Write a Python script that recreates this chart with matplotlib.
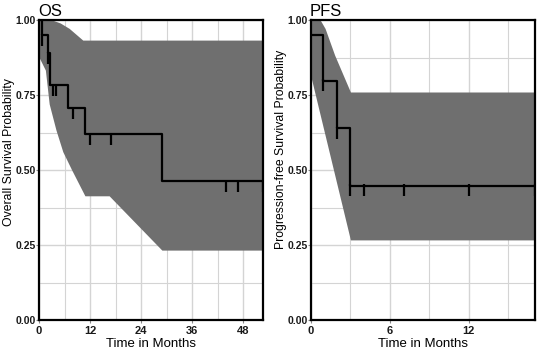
import numpy as np
import matplotlib
matplotlib.use('Agg')
import matplotlib.pyplot as plt
from matplotlib.ticker import MultipleLocator

plt.rcParams['font.family'] = ['Liberation Sans', 'DejaVu Sans']

# OS (overall survival) curve
os_event_t = [0, 0.8, 2.0, 2.7, 6.8, 10.9, 28.9]
os_surv = [1.0, 0.95, 0.89, 0.783, 0.706, 0.62, 0.463]
os_cens_t = [0.8, 2.1, 3.2, 4.0, 7.9, 12.0, 16.9, 43.9, 46.8, 52.7]
os_upper_t = [0, 3.1, 5.0, 7.1, 10.3, 52.7]
os_upper = [1.0, 1.0, 0.99, 0.972, 0.933, 0.933]
os_lower_t = [0, 0.1, 1.5, 2.4, 4.0, 5.6, 7.7, 10.8, 16.5, 28.9, 52.7]
os_lower = [1.0, 0.873, 0.833, 0.72, 0.633, 0.561, 0.5, 0.414, 0.414, 0.233, 0.233]

# PFS (progression-free survival) curve
pfs_event_t = [0, 0.94, 1.96, 2.98]
pfs_surv = [0.95, 0.798, 0.639, 0.448]
pfs_cens_t = [0.94, 1.96, 2.98, 4.0, 7.05, 12.0, 17.05]
pfs_upper_t = [0, 0.7, 1.07, 1.8, 3.0, 17.05]
pfs_upper = [1.0, 1.0, 0.972, 0.883, 0.76, 0.76]
pfs_lower_t = [0, 3.0, 17.05]
pfs_lower = [0.81, 0.267, 0.267]

band_col = '#6f6f6f'
grid_col = '#d4d4d4'


def step_at(ts, ss, t):
    idx = np.searchsorted(ts, t, side='right') - 1
    return np.array(ss)[idx]


def km_panel(ax, ev_t, surv, cens_t, up_t, up, lo_t, lo, xmax, xstep, title, ylabel, ylab_y):
    # confidence band
    grid_t = np.union1d(up_t, lo_t)
    ax.fill_between(grid_t, np.interp(grid_t, lo_t, lo), np.interp(grid_t, up_t, up),
                    color=band_col, lw=0, zorder=2)
    # KM step line
    ts = list(ev_t) + [xmax]
    ss = list(surv) + [surv[-1]]
    ax.step(ts, ss, where='post', color='black', lw=1.6, zorder=3)
    # censor marks
    cy = step_at(ev_t, surv, np.array(cens_t))
    ax.vlines(cens_t, cy - 0.036, cy + 0.004, color='black', lw=1.6, zorder=3)

    ax.set_xlim(0, xmax)
    ax.set_ylim(0, 1)
    ax.xaxis.set_major_locator(MultipleLocator(xstep))
    ax.xaxis.set_minor_locator(MultipleLocator(xstep / 2))
    ax.yaxis.set_minor_locator(MultipleLocator(0.125))
    ax.set_yticks([0, 0.25, 0.5, 0.75, 1.0])
    ax.set_yticklabels(['0.00', '0.25', '0.50', '0.75', '1.00'])
    ax.grid(which='major', color=grid_col, lw=1.0, zorder=0)
    ax.grid(which='minor', color=grid_col, lw=0.8, zorder=0)
    ax.set_axisbelow(True)
    ax.tick_params(which='major', length=2, width=0.8, color='#888888',
                   labelsize=8, labelcolor='#1a1a1a')
    ax.tick_params(axis='y', pad=0.5, labelsize=7.5)
    ax.tick_params(axis='x', pad=2.5)
    ax.tick_params(which='minor', length=0)
    for lab in ax.get_xticklabels() + ax.get_yticklabels():
        lab.set_fontweight('bold')
    for sp in ax.spines.values():
        sp.set_color('black')
        sp.set_linewidth(1.6)
        sp.set_zorder(5)
    ax.set_xlabel('Time in Months', fontsize=9.5, labelpad=1.5)
    ax.set_ylabel(ylabel, fontsize=8.8)
    ax.yaxis.set_label_coords(-0.107, ylab_y)
    ax.set_title(title, loc='left', fontsize=12, pad=3, x=-0.005)


fig = plt.figure(figsize=(5.4, 3.53), dpi=100)
ax1 = fig.add_axes([39 / 540, 1 - 320 / 353, 224 / 540, 300 / 353])
ax2 = fig.add_axes([311 / 540, 1 - 320 / 353, 224 / 540, 300 / 353])

km_panel(ax1, os_event_t, os_surv, os_cens_t, os_upper_t, os_upper, os_lower_t, os_lower,
         52.7, 12, 'OS', 'Overall Survival Probability', 0.56)
km_panel(ax2, pfs_event_t, pfs_surv, pfs_cens_t, pfs_upper_t, pfs_upper, pfs_lower_t, pfs_lower,
         17.05, 6, 'PFS', 'Progression-free Survival Probability', 0.57)

fig.savefig('out.png', dpi=100)
